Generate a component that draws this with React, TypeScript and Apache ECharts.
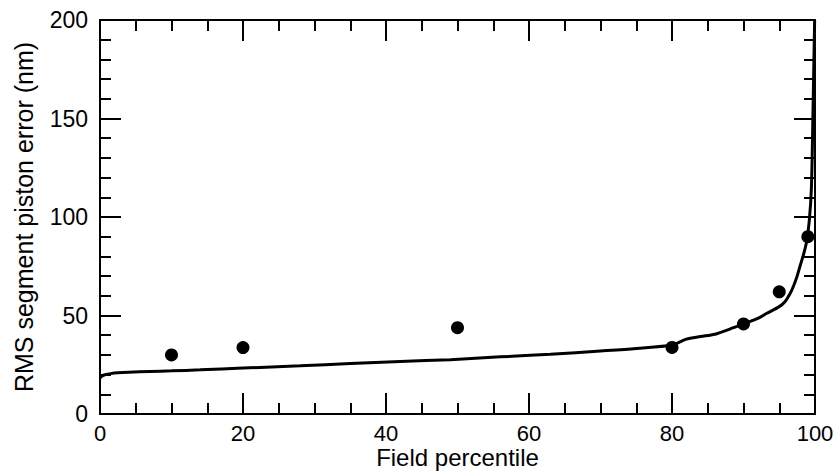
import React, { useEffect, useRef } from "react";
import * as echarts from "echarts";

const curveX = [0, 0.3, 0.7, 1.5, 2.5, 4, 7, 10, 14, 20, 28, 35, 42, 49, 56, 63, 70, 75, 80, 82, 84, 86, 88, 90, 92, 93.2, 95, 95.8, 96.5, 97, 97.5, 97.9, 98.4, 98.8, 99.2, 99.5, 99.7, 99.85, 99.95];
const curveY = [18.3, 19.3, 19.9, 20.5, 20.9, 21.2, 21.6, 21.9, 22.4, 23.3, 24.5, 25.6, 26.7, 27.6, 29, 30.3, 32, 33.3, 35, 38, 39.3, 40.5, 43, 45.7, 48.5, 51, 54.5, 57, 61, 65, 70, 75, 81, 87, 98, 115, 150, 180, 200];

const pointX = [10, 20, 50, 80, 90, 95, 99];
const pointY = [30, 33.7, 43.8, 33.8, 45.7, 62, 90];

const xTitle = "Field percentile";
const yTitle = "RMS segment piston error (nm)";

const FONT = "'Liberation Sans', Arial, Helvetica, sans-serif";

function xAxisDef(pos: "bottom" | "top", labels: boolean) {
  return {
    type: "value",
    position: pos,
    min: 0,
    max: 100,
    interval: 20,
    axisLine: { show: true, onZero: false, lineStyle: { color: "#000", width: 2 } },
    axisTick: { show: true, inside: true, length: 21, lineStyle: { color: "#000", width: 2 } },
    minorTick: { show: true, splitNumber: 4, length: 11, lineStyle: { color: "#000", width: 2 } },
    splitLine: { show: false },
    minorSplitLine: { show: false },
    axisLabel: labels
      ? { show: true, color: "#000", fontSize: 22, lineHeight: 22, fontFamily: FONT, margin: 8 }
      : { show: false },
    ...(labels
      ? {
          name: xTitle,
          nameLocation: "middle",
          nameGap: 31,
          nameMoveOverlap: false,
          nameTextStyle: { color: "#000", fontSize: 24, lineHeight: 24, fontFamily: FONT },
        }
      : {}),
  };
}

function yAxisDef(pos: "left" | "right", labels: boolean) {
  return {
    type: "value",
    position: pos,
    min: 0,
    max: 200,
    interval: 50,
    axisLine: { show: true, onZero: false, lineStyle: { color: "#000", width: 2 } },
    axisTick: { show: true, inside: true, length: 21, lineStyle: { color: "#000", width: 2 } },
    minorTick: { show: true, splitNumber: 5, length: 11, lineStyle: { color: "#000", width: 2 } },
    splitLine: { show: false },
    minorSplitLine: { show: false },
    axisLabel: labels
      ? { show: true, color: "#000", fontSize: 23, fontFamily: FONT, margin: 12 }
      : { show: false },
    ...(labels
      ? {
          name: yTitle,
          nameLocation: "middle",
          nameGap: 64,
          nameMoveOverlap: false,
          nameTextStyle: { color: "#000", fontSize: 25, fontFamily: FONT },
        }
      : {}),
  };
}

export default function App() {
  const ref = useRef<HTMLDivElement>(null);
  useEffect(() => {
    if (!ref.current) return;
    const chart = echarts.init(ref.current, null, { renderer: "svg" });
    chart.setOption({
      animation: false,
      backgroundColor: "#fff",
      grid: { left: 100, right: 25, top: 20, bottom: 59, containLabel: false, outerBoundsMode: "none" },
      xAxis: [xAxisDef("bottom", true), xAxisDef("top", false)],
      yAxis: [yAxisDef("left", true), yAxisDef("right", false)],
      series: [
        {
          type: "line",
          data: curveX.map((x, i) => [x, curveY[i]]),
          showSymbol: false,
          smooth: 0.3,
          lineStyle: { color: "#000", width: 3 },
          clip: true,
          z: 2,
        },
        {
          type: "scatter",
          data: pointX.map((x, i) => [x, pointY[i]]),
          symbol: "circle",
          symbolSize: 13,
          itemStyle: { color: "#000", opacity: 1 },
          z: 3,
        },
      ],
    });
    return () => chart.dispose();
  }, []);
  return (
    <div
      ref={ref}
      style={{ position: "fixed", left: 0, top: 0, width: 840, height: 473, background: "#fff" }}
    />
  );
}
